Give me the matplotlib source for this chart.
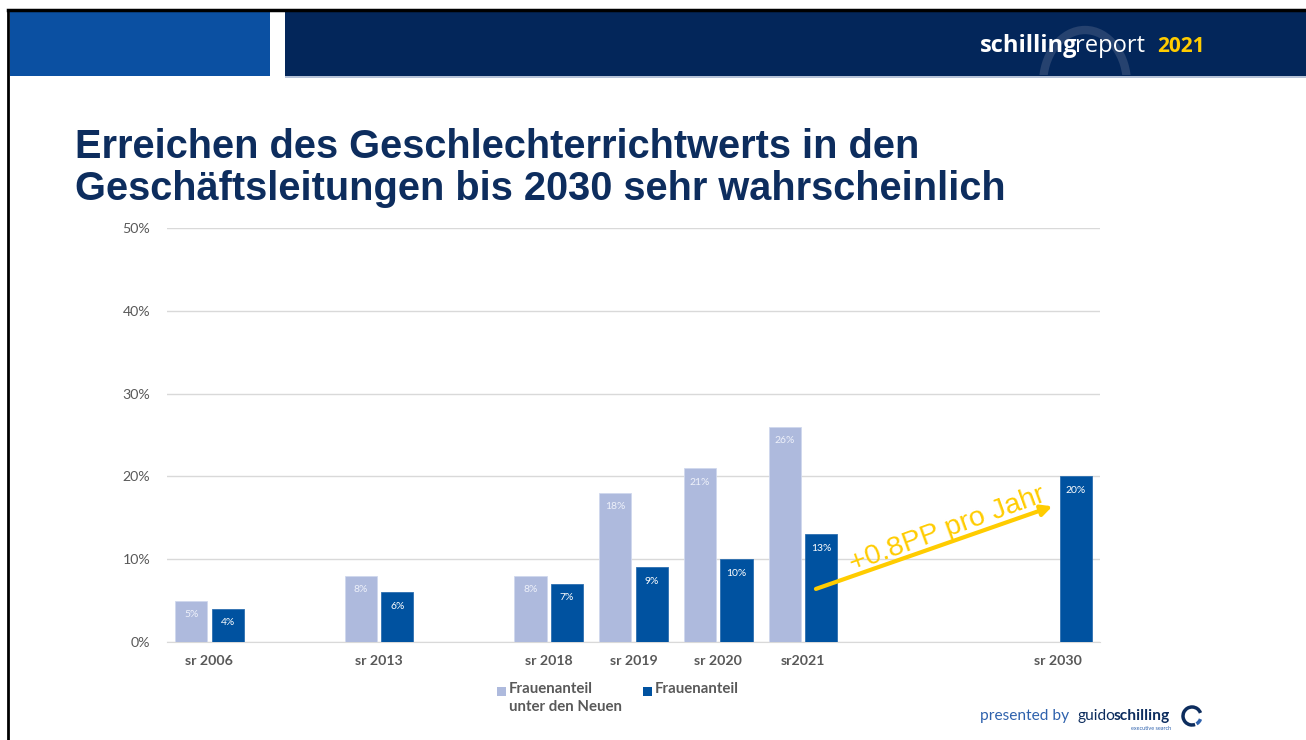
import matplotlib.pyplot as plt
from matplotlib.patches import Rectangle, Arc
from matplotlib.lines import Line2D
import numpy as np

# data
categories = ["sr 2006", "", "sr 2013", "", "sr 2018", "sr 2019", "sr 2020", "sr2021", "", "", "sr 2030"]
neu = [5, np.nan, 8, np.nan, 8, 18, 21, 26, np.nan, np.nan, np.nan]
gesamt = [4, np.nan, 6, np.nan, 7, 9, 10, 13, np.nan, np.nan, 20]
y_ticks = [0, 10, 20, 30, 40, 50]
series_names = ["Frauenanteil\nunter den Neuen", "Frauenanteil"]

LIGHT = "#aebadd"
DARK = "#0052a0"
NAVY = "#03265a"
GRAY = "#595959"
YELLOW = "#ffcc00"

W, H = 1306, 740
fig = plt.figure(figsize=(W / 100, H / 100), dpi=100)


def fx(px):
    return px / W


def fy(py):
    return 1 - py / H


# slide frame + header
fig.patches.append(Rectangle((fx(10), fy(76)), fx(260), fy(12) - fy(76), transform=fig.transFigure,
                             facecolor="#0b50a2", edgecolor="none"))
fig.patches.append(Rectangle((fx(285), fy(76)), fx(1021), fy(12) - fy(76), transform=fig.transFigure,
                             facecolor=NAVY, edgecolor="none"))
fig.patches.append(Rectangle((fx(285), fy(78)), fx(1021), fy(76) - fy(78), transform=fig.transFigure,
                             facecolor="#b7c3d8", edgecolor="none"))
fig.lines.append(Line2D([fx(8), fx(8)], [0, fy(10)], transform=fig.transFigure, color="black", lw=2))
fig.lines.append(Line2D([fx(8), 1], [fy(10), fy(10)], transform=fig.transFigure, color="black", lw=2.5))

# faint arc behind header logo
hdr_ax = fig.add_axes([fx(285), fy(75), fx(1021), fy(12) - fy(75)], zorder=2)
hdr_ax.set_xlim(285, 1306)
hdr_ax.set_ylim(75, 12)
hdr_ax.axis("off")
hdr_ax.add_patch(Arc((1085, 84), 84, 108, theta1=178, theta2=362, color="#26426f", lw=6))

fig.text(fx(980), fy(46), "schilling", fontsize=17, fontweight="bold", color="white",
         family="Open Sans", va="center", zorder=3)
fig.text(fx(1075), fy(46), "report", fontsize=17, color="white", family="Open Sans", va="center", zorder=3)
fig.text(fx(1157), fy(46), "2021", fontsize=15, fontweight="bold", color=YELLOW,
         family="Open Sans", va="center", zorder=3)

# title
fig.text(fx(75), fy(168), "Erreichen des Geschlechterrichtwerts in den\nGeschäftsleitungen bis 2030 sehr wahrscheinlich",
         fontsize=28.6, fontweight="bold", color="#0d2d5e", family="Liberation Sans",
         va="center", linespacing=1.15)

# chart
ax = fig.add_axes([fx(167), fy(642), fx(1100) - fx(167), fy(228) - fy(642)])
x = np.arange(len(categories))
bw = 0.38
b1 = ax.bar(x - 0.215, neu, bw, color=LIGHT, edgecolor="#d0d8ee", lw=0.6, label=series_names[0], zorder=3)
b2 = ax.bar(x + 0.215, gesamt, bw, color=DARK, edgecolor="#2d6fb0", lw=0.6, label=series_names[1], zorder=3)

for bars, vals, col in [(b1, neu, "#eef1fa"), (b2, gesamt, "white")]:
    for rect, v in zip(bars, vals):
        if np.isnan(v):
            continue
        ax.annotate(f"{v:.0f}%", (rect.get_x() + rect.get_width() / 2, v), xytext=(0, -10),
                    textcoords="offset points", ha="center", va="center", fontsize=7.5,
                    color=col, family="Lato", zorder=4)

ax.set_xlim(-0.5, len(categories) - 0.5)
ax.set_ylim(0, 50)
ax.set_yticks(y_ticks)
ax.set_yticklabels([f"{t}%" for t in y_ticks])
ax.set_xticks(x)
ax.set_xticklabels(categories, fontweight="bold")
ax.grid(axis="y", color="#d9d9d9", lw=1, zorder=0)
for s in ["top", "right", "left"]:
    ax.spines[s].set_visible(False)
ax.spines["bottom"].set_color("#d9d9d9")
ax.tick_params(axis="both", length=0, colors=GRAY, labelsize=10.2)
ax.tick_params(axis="y", pad=12)
ax.tick_params(axis="x", pad=9.5)
for lab in ax.get_xticklabels() + ax.get_yticklabels():
    lab.set_family("Lato")

# trend arrow
ax.annotate("", xy=(9.97, 16.5), xytext=(7.12, 6.3),
            arrowprops=dict(arrowstyle="-|>", color=YELLOW, lw=3, mutation_scale=16), zorder=5)
ax.text(8.7, 13.6, "+0.8PP pro Jahr", rotation=20, color=YELLOW, fontsize=20.5,
        ha="center", va="center", family="Liberation Sans", rotation_mode="anchor", zorder=5)

# legend (drawn by hand so the square sits beside the first text line)
for px, col, name in [(497, LIGHT, series_names[0]), (643, DARK, series_names[1])]:
    fig.patches.append(Rectangle((fx(px), fy(696)), fx(9), fy(687) - fy(696), transform=fig.transFigure,
                                 facecolor=col, edgecolor="none"))
    fig.text(fx(px + 12), fy(682), name, fontsize=10.8, fontweight="bold", color=GRAY,
             family="Lato", va="top", linespacing=1.35)

# footer
fig.text(fx(980), fy(716), "presented by", fontsize=11.2, color="#2f62ad", family="Lato", va="center")
fig.text(fx(1077), fy(716), "guido", fontsize=11.2, color="#0d2d5e", family="Lato", va="center")
fig.text(fx(1114), fy(716), "schilling", fontsize=11.2, color="#0d2d5e", fontweight="bold",
         family="Lato", va="center")
fig.text(fx(1171), fy(728), "executive search", fontsize=4, color="#2f62ad", family="Lato",
         ha="right", va="center")
foot_ax = fig.add_axes([fx(1180), fy(730), fx(26), fy(702) - fy(730)])
foot_ax.set_xlim(0, 26)
foot_ax.set_ylim(28, 0)
foot_ax.set_aspect("equal")
foot_ax.axis("off")
foot_ax.add_patch(Arc((12, 14), 18, 18, theta1=70, theta2=340, color="#0d2d5e", lw=2.5))
foot_ax.add_patch(Arc((12, 14), 18, 18, theta1=20, theta2=60, color="#2f62ad", lw=2.5))

fig.savefig("out.png", dpi=100)
